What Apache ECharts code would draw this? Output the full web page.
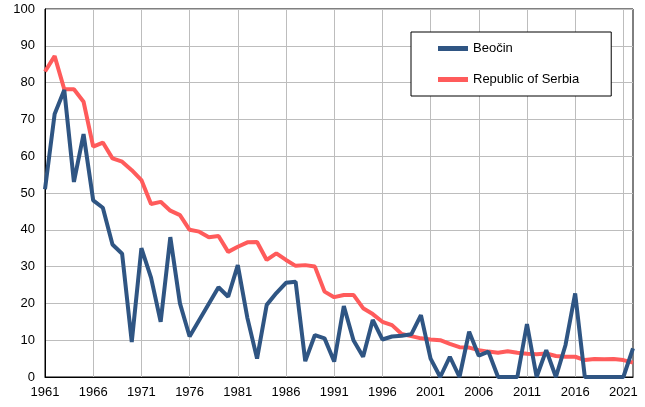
<!DOCTYPE html>
<html>
<head>
<meta charset="utf-8">
<script src="https://cdn.jsdelivr.net/npm/echarts@6/dist/echarts.min.js"></script>
<style>html,body{margin:0;padding:0;background:#fff}#c{width:645px;height:407px}</style>
</head>
<body>
<div id="c"></div>
<script>
const years = [];
for (let y = 1961; y <= 2022; y++) years.push(String(y));

const beocin = [
  51, 71.5, 78, 53, 66, 48, 46, 36, 33.5, 9.5,
  35, 27, 15, 38, 20, 11, null, null, 24.4, 21.8,
  30.4, 16, 5, 19.6, 22.8, 25.6, 25.9, 4.3, 11.4, 10.5,
  4.2, 19.3, 10, 5.5, 15.5, 10.2, 11, 11.2, 11.6, 16.8,
  5, 0, 5.5, 0, 12.3, 5.8, 6.9, 0, 0, 0,
  14.4, 0, 7.3, 0, 8.7, 22.7, 0, 0, 0, 0,
  0, 7.8
];

const serbia = [
  83, 87.2, 78.2, 78.2, 74.8, 62.6, 63.7, 59.4, 58.5, 56.2,
  53.5, 47, 47.6, 45.2, 44, 40, 39.5, 38, 38.3, 34,
  35.4, 36.6, 36.7, 31.8, 33.6, 31.8, 30.2, 30.4, 30, 23.2,
  21.7, 22.3, 22.3, 18.7, 17.1, 15, 14.1, 11.7, 11.1, 10.5,
  10.2, 10, 9, 8.1, 8, 7.3, 6.9, 6.6, 7, 6.6,
  6.3, 6.2, 6.4, 5.7, 5.5, 5.5, 4.6, 4.9, 4.8, 4.9,
  4.6, 3.9
];

const chart = echarts.init(document.getElementById('c'), null, {renderer: 'canvas'});
const font = 'Liberation Sans, Arial, sans-serif';
chart.setOption({
  animation: false,
  textStyle: {fontFamily: font},
  grid: {left: 45, top: 9, right: 12, bottom: 30, show: true, borderColor: '#000', borderWidth: 1, containLabel: false},
  legend: {
    orient: 'vertical',
    left: 411, top: 32,
    padding: [10, 32, 10, 27],
    itemGap: 18,
    itemWidth: 30, itemHeight: 5,
    icon: 'rect',
    borderColor: '#000', borderWidth: 1, backgroundColor: '#fff',
    textStyle: {fontSize: 13, color: '#000', fontFamily: font},
    data: ['Beočin', 'Republic of Serbia']
  },
  xAxis: {
    type: 'category',
    data: years,
    boundaryGap: false,
    axisLine: {lineStyle: {color: '#000', width: 1}},
    axisTick: {show: false},
    axisLabel: {interval: 4, color: '#000', fontSize: 13, margin: 9, fontFamily: font},
    splitLine: {show: true, interval: 4, lineStyle: {color: '#bdbdbd', width: 1}}
  },
  yAxis: {
    type: 'value',
    min: 0, max: 100, interval: 10,
    axisLine: {show: true, lineStyle: {color: '#000', width: 1}},
    axisTick: {show: false},
    axisLabel: {color: '#000', fontSize: 13, margin: 10, fontFamily: font},
    splitLine: {show: true, lineStyle: {color: '#bdbdbd', width: 1}}
  },
  series: [
    {name: 'Beočin', type: 'line', data: beocin, connectNulls: true, showSymbol: false, symbol: 'none',
     lineStyle: {color: '#2f5583', width: 4}, itemStyle: {color: '#2f5583'}, z: 3},
    {name: 'Republic of Serbia', type: 'line', data: serbia, showSymbol: false, symbol: 'none',
     lineStyle: {color: '#ff5b5b', width: 4}, itemStyle: {color: '#ff5b5b'}, z: 2}
  ]
});
</script>
</body>
</html>
